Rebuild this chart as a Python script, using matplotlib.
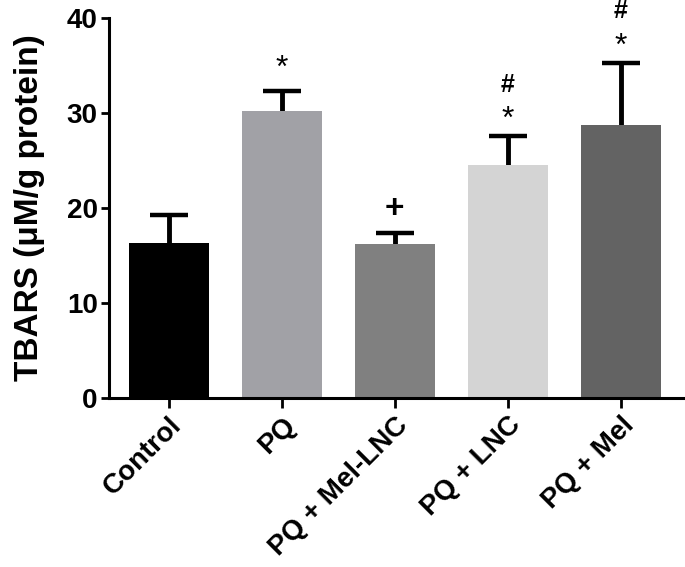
import matplotlib.pyplot as plt

plt.rcParams['font.family'] = ['Liberation Sans', 'DejaVu Sans']
plt.rcParams['font.weight'] = 'bold'

# ================== DATA ==================
groups = ["Control", "PQ", "PQ + Mel-LNC", "PQ + LNC", "PQ + Mel"]
means = [16.3, 30.2, 16.2, 24.5, 28.7]
errors = [3.0, 2.1, 1.2, 3.1, 6.6]
colors = ["#000000", "#a1a1a6", "#808080", "#d4d4d4", "#636363"]
star = [False, True, False, True, True]
hash_mark = [False, False, False, True, True]
plus = [False, False, True, False, False]

# ================== FIGURE ==================
fig = plt.figure(figsize=(6.85, 5.67), dpi=100)
ax = fig.add_axes([0.159, 0.298, 0.841, 0.670])

x = range(len(groups))
ax.bar(x, means, width=0.71, color=colors, zorder=2)
eb = ax.errorbar(x, means, yerr=[[0] * len(errors), errors], fmt="none",
                 ecolor="black", elinewidth=3.5, capsize=13.5, capthick=3.2,
                 zorder=1)
eb[1][0].set_visible(False)   # bo nap duoi

# ky hieu thong ke
for i in x:
    top = means[i] + errors[i]
    if star[i]:
        off = 2.4 if not hash_mark[i] else 1.7
        ax.text(i, top + off, "*", ha="center", va="center", fontsize=23,
                fontweight="normal", clip_on=False)
    if hash_mark[i]:
        ax.text(i, top + 5.4, "#", ha="center", va="center", fontsize=18,
                fontweight="bold", clip_on=False)
    if plus[i]:
        ax.text(i, top + 2.4, "+", ha="center", va="center", fontsize=24,
                fontweight="bold")

ax.set_ylim(0, 40)
ax.set_xlim(-0.53, 4.57)
ax.set_yticks([0, 10, 20, 30, 40])
ax.set_xticks(list(x))
ax.set_xticklabels(groups, rotation=45, ha="right", rotation_mode="anchor",
                   fontsize=20, fontweight="bold")
ax.tick_params(axis="y", labelsize=20, width=2, length=6, pad=2)
ax.tick_params(axis="x", width=2, length=7, pad=3)
for lbl in ax.get_yticklabels():
    lbl.set_fontweight("bold")
ax.set_ylabel("TBARS (μM/g protein)", fontsize=24, fontweight="bold", labelpad=16)

for s in ["top", "right"]:
    ax.spines[s].set_visible(False)
ax.spines["left"].set_linewidth(2.2)
ax.spines["bottom"].set_linewidth(2.2)

fig.savefig("out.png", dpi=100)
